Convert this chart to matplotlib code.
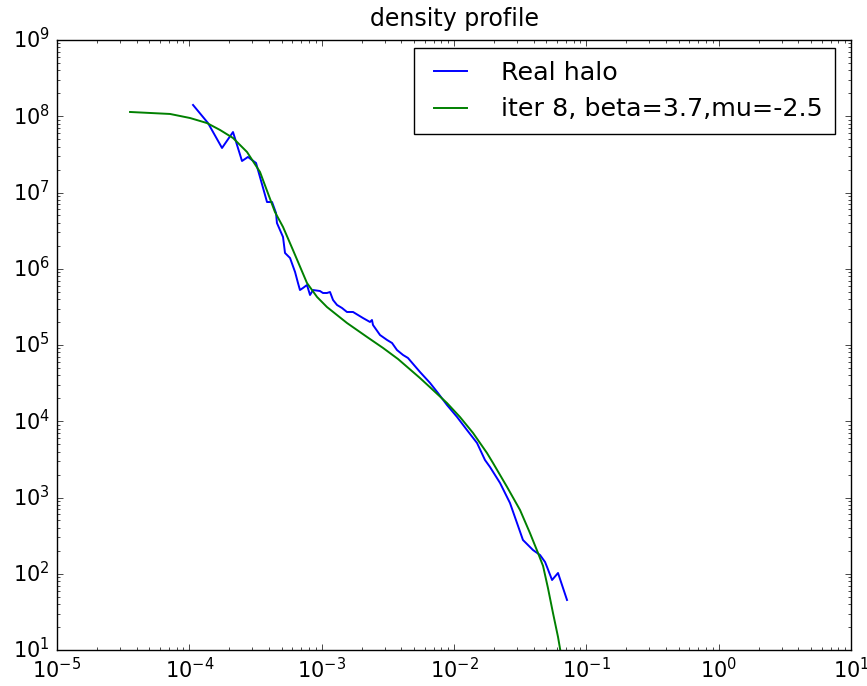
import numpy as np
import matplotlib
matplotlib.use("Agg")
import matplotlib.pyplot as plt

plt.style.use("classic")

# ---- data (log10 values) ----
halo_log_r = [-3.972, -3.859, -3.753, -3.670, -3.602, -3.557, -3.496, -3.413, -3.375,
              -3.345, -3.338, -3.292, -3.277, -3.239, -3.201, -3.179, -3.164, -3.141,
              -3.111, -3.088, -3.065, -3.013, -2.990, -2.960, -2.937, -2.914, -2.884,
              -2.846, -2.809, -2.763, -2.725, -2.688, -2.635, -2.620, -2.612, -2.559,
              -2.506, -2.468, -2.431, -2.385, -2.348, -2.257, -2.181, -2.121, -2.053,
              -1.977, -1.902, -1.826, -1.766, -1.728, -1.652, -1.577, -1.524, -1.479,
              -1.403, -1.350, -1.312, -1.297, -1.259, -1.214, -1.146]
halo_log_rho = [8.148, 7.911, 7.584, 7.793, 7.413, 7.466, 7.387, 6.875, 6.875,
                6.731, 6.600, 6.416, 6.207, 6.141, 5.957, 5.813, 5.721, 5.748,
                5.787, 5.656, 5.721, 5.708, 5.682, 5.682, 5.695, 5.590, 5.525,
                5.485, 5.433, 5.433, 5.393, 5.354, 5.302, 5.328, 5.262, 5.131,
                5.066, 5.026, 4.934, 4.869, 4.830, 4.646, 4.502, 4.370, 4.213,
                4.056, 3.885, 3.715, 3.492, 3.400, 3.190, 2.928, 2.666, 2.443,
                2.311, 2.246, 2.154, 2.089, 1.918, 2.010, 1.656]

fit_log_r = [-4.448, -4.146, -3.995, -3.867, -3.768, -3.670, -3.564, -3.466, -3.353,
             -3.292, -3.217, -3.111, -3.035, -2.960, -2.809, -2.657, -2.536, -2.423,
             -2.257, -2.159, -2.053, -1.955, -1.856, -1.751, -1.705, -1.599, -1.501,
             -1.426, -1.365, -1.327, -1.290, -1.252, -1.214, -1.184]
fit_log_rho = [8.056, 8.030, 7.977, 7.911, 7.820, 7.715, 7.531, 7.269, 6.744,
               6.548, 6.246, 5.813, 5.630, 5.498, 5.289, 5.105, 4.961, 4.816,
               4.567, 4.410, 4.239, 4.056, 3.846, 3.584, 3.452, 3.138, 2.836,
               2.534, 2.272, 2.102, 1.813, 1.485, 1.171, 0.869]

labels = ["Real halo", "iter 8, beta=3.7,mu=-2.5"]
title = "density profile"

halo_r = 10.0 ** np.array(halo_log_r)
halo_rho = 10.0 ** np.array(halo_log_rho)
fit_r = 10.0 ** np.array(fit_log_r)
fit_rho = 10.0 ** np.array(fit_log_rho)

fig = plt.figure(figsize=(8.67, 6.86), dpi=100, facecolor="white")
ax = fig.add_axes([57 / 867, 36 / 686, (851 - 57) / 867, (650 - 40) / 686])
ax.plot(halo_r, halo_rho, color="b", lw=1.4, label=labels[0])
ax.plot(fit_r, fit_rho, color="g", lw=1.4, label=labels[1])
ax.set_xscale("log")
ax.set_yscale("log")
ax.set_xlim(1e-5, 1e1)
ax.set_ylim(1e1, 1e9)
ax.set_title(title, fontsize=17, y=1.012)
ax.tick_params(labelsize=15, pad=5)
ax.legend(loc="upper right", bbox_to_anchor=(0.9798, 0.9869), borderaxespad=0,
          fontsize=18.3, frameon=True, fancybox=False, handlelength=1.9,
          handletextpad=1.0, labelspacing=0.5, borderpad=0.5)

fig.savefig("out.png", dpi=100, facecolor="white")
